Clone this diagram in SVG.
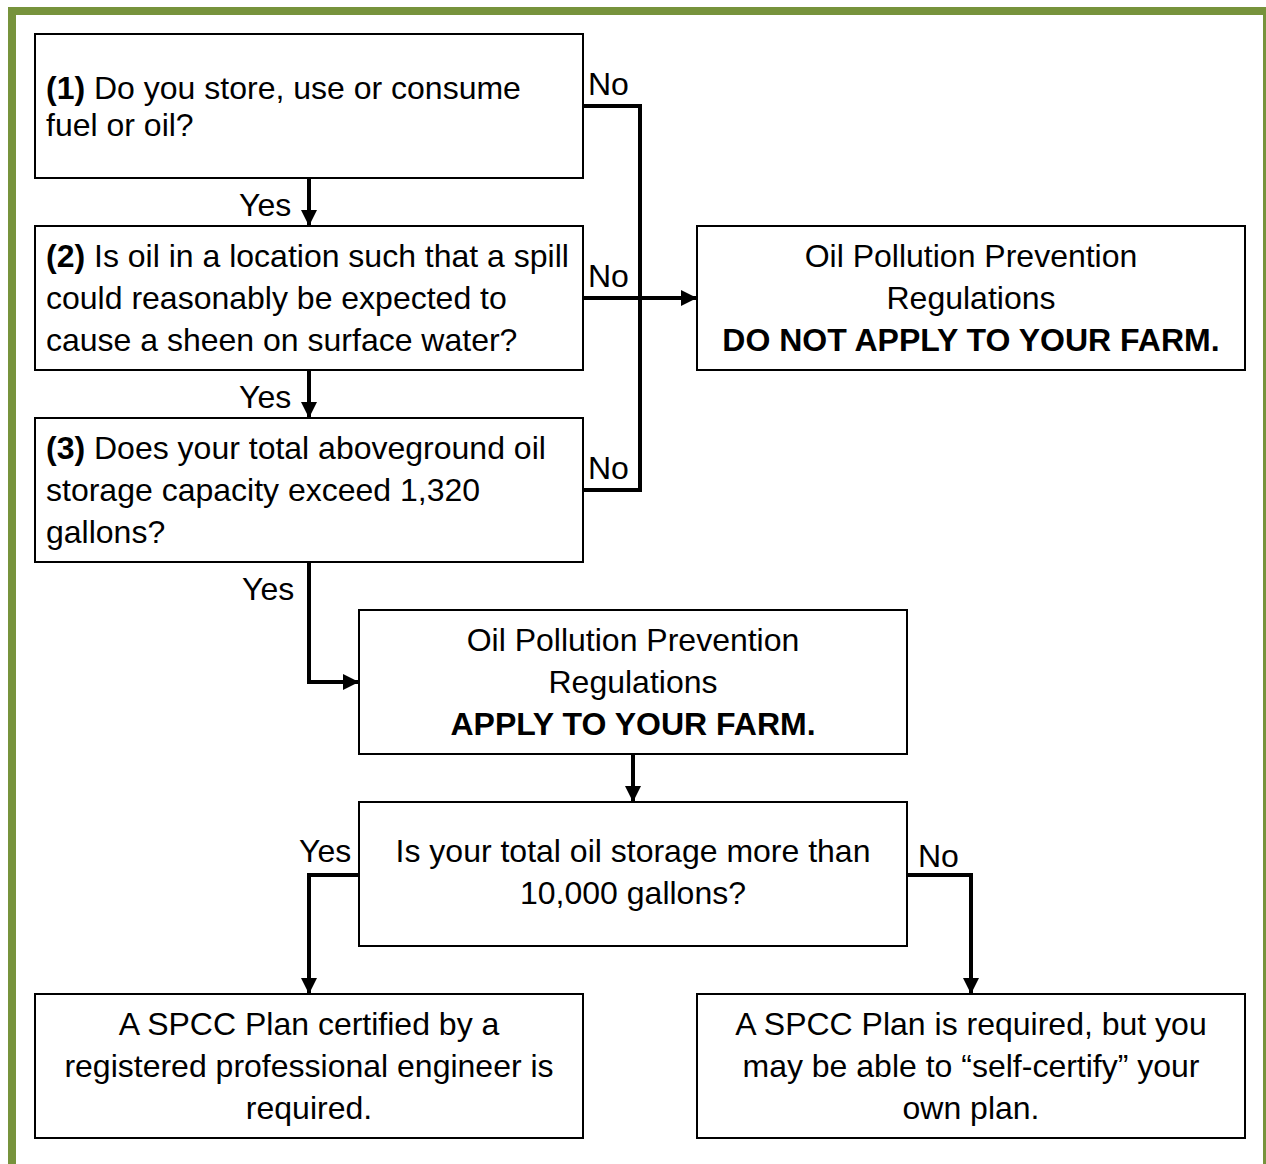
<svg xmlns="http://www.w3.org/2000/svg" width="1266" height="1164" viewBox="0 0 1266 1164">
<defs>
<marker id="ah" viewBox="0 0 10 10" refX="10" refY="5" markerWidth="4" markerHeight="4" markerUnits="strokeWidth" orient="auto">
<path d="M0,0 L10,5 L0,10 z" fill="#000"/>
</marker>
<style>
.box{fill:#fff;stroke:#000;stroke-width:2}
.t{font-family:"Liberation Sans",Arial,sans-serif;font-size:32px;fill:#000}
.c{text-anchor:middle}
.b{font-weight:bold}
.con{fill:none;stroke:#000;stroke-width:4}
</style>
</defs>
<rect width="1266" height="1164" fill="#fff"/>
<rect x="12" y="11" width="1255" height="1200" fill="none" stroke="#77933C" stroke-width="8"/>
<g id="connectors">
<polyline class="con" points="583,106 640,106 640,490 583,490"/>
<line class="con" x1="583" y1="298" x2="697" y2="298" marker-end="url(#ah)"/>
<line class="con" x1="309" y1="178" x2="309" y2="226" marker-end="url(#ah)"/>
<line class="con" x1="309" y1="370" x2="309" y2="418" marker-end="url(#ah)"/>
<polyline class="con" points="309,562 309,682 359,682" marker-end="url(#ah)"/>
<line class="con" x1="633" y1="754" x2="633" y2="802" marker-end="url(#ah)"/>
<polyline class="con" points="359,875 309,875 309,994" marker-end="url(#ah)"/>
<polyline class="con" points="907,875 971,875 971,994" marker-end="url(#ah)"/>
<text class="t" x="588" y="95">No</text>
<text class="t" x="588" y="287">No</text>
<text class="t" x="588" y="479">No</text>
<text class="t" x="239" y="216">Yes</text>
<text class="t" x="239" y="408">Yes</text>
<text class="t" x="242" y="600">Yes</text>
<text class="t" x="299" y="862">Yes</text>
<text class="t" x="918" y="867">No</text>
</g>
<g id="q1">
<rect class="box" x="35" y="34" width="548" height="144"/>
<text class="t" x="46" y="99"><tspan class="b">(1)</tspan> Do you store, use or consume</text>
<text class="t" x="46" y="136">fuel or oil?</text>
</g>
<g id="q2">
<rect class="box" x="35" y="226" width="548" height="144"/>
<text class="t" x="46" y="267"><tspan class="b">(2)</tspan> Is oil in a location such that a spill</text>
<text class="t" x="46" y="309">could reasonably be expected to</text>
<text class="t" x="46" y="351">cause a sheen on surface water?</text>
</g>
<g id="q3">
<rect class="box" x="35" y="418" width="548" height="144"/>
<text class="t" x="46" y="459"><tspan class="b">(3)</tspan> Does your total aboveground oil</text>
<text class="t" x="46" y="501">storage capacity exceed 1,320</text>
<text class="t" x="46" y="543">gallons?</text>
</g>
<g id="notapply">
<rect class="box" x="697" y="226" width="548" height="144"/>
<text class="t c" x="971" y="267">Oil Pollution Prevention</text>
<text class="t c" x="971" y="309">Regulations</text>
<text class="t c b" x="971" y="351">DO NOT APPLY TO YOUR FARM.</text>
</g>
<g id="apply">
<rect class="box" x="359" y="610" width="548" height="144"/>
<text class="t c" x="633" y="651">Oil Pollution Prevention</text>
<text class="t c" x="633" y="693">Regulations</text>
<text class="t c b" x="633" y="735">APPLY TO YOUR FARM.</text>
</g>
<g id="q4">
<rect class="box" x="359" y="802" width="548" height="144"/>
<text class="t c" x="633" y="862">Is your total oil storage more than</text>
<text class="t c" x="633" y="904">10,000 gallons?</text>
</g>
<g id="pe">
<rect class="box" x="35" y="994" width="548" height="144"/>
<text class="t c" x="309" y="1035">A SPCC Plan certified by a</text>
<text class="t c" x="309" y="1077">registered professional engineer is</text>
<text class="t c" x="309" y="1119">required.</text>
</g>
<g id="self">
<rect class="box" x="697" y="994" width="548" height="144"/>
<text class="t c" x="971" y="1035">A SPCC Plan is required, but you</text>
<text class="t c" x="971" y="1077">may be able to “self-certify” your</text>
<text class="t c" x="971" y="1119">own plan.</text>
</g>
</svg>
